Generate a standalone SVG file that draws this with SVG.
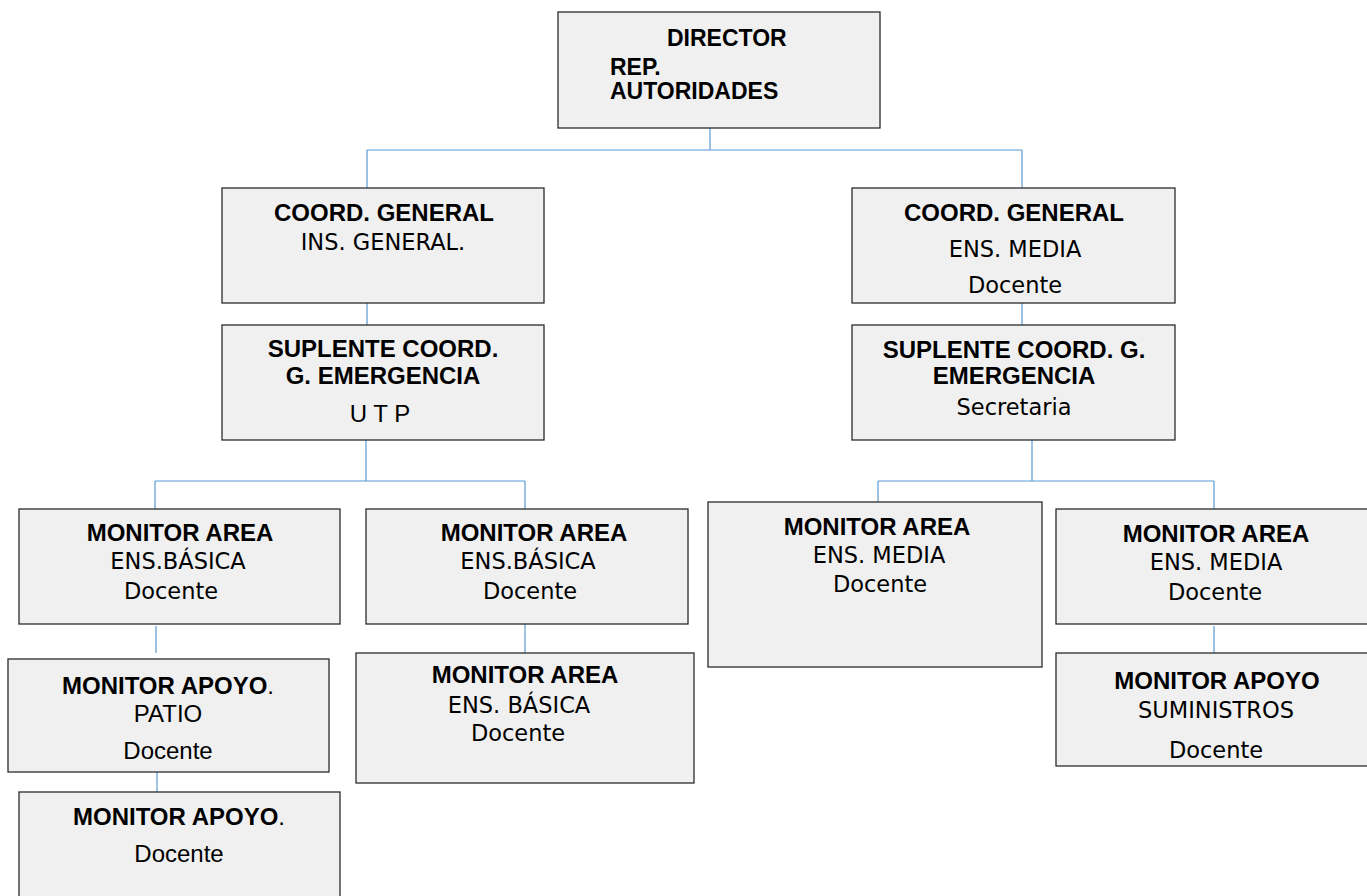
<svg xmlns="http://www.w3.org/2000/svg" width="1367" height="896" viewBox="0 0 1367 896">
<style>
.box{fill:#f0f0f0;stroke:#2b2b2b;stroke-width:1.3}
.b{font-family:"Liberation Sans",Arial,sans-serif;font-weight:bold;font-size:24px;fill:#000;text-anchor:middle}
.d{font-size:23px;text-anchor:start}
.r{font-family:"DejaVu Sans",Verdana,sans-serif;font-size:22.5px;fill:#000;text-anchor:middle}
.a{font-family:"Liberation Sans",Arial,sans-serif;font-size:24px;fill:#000;text-anchor:middle}
.n{font-weight:normal}
.c{fill:none;stroke:#5b9bd5;stroke-width:1.2}
</style>
<rect width="1367" height="896" fill="#fff"/>
<g id="connectors" class="c">
<path d="M710 128V150M367 150H1022M367 150V188M1022 150V188"/>
<path d="M367 303V325M1022 303V325"/>
<path d="M366 440V481M155 481H525M155 481V509M525 481V509"/>
<path d="M1032 440V481M878 481H1214M878 481V502M1214 481V509"/>
<path d="M156 626V653M157 772V792M525 624V653M1214 626V653"/>
</g>
<g id="director">
<rect class="box" x="558" y="12" width="322" height="116"/>
<text class="b d" x="667" y="46">DIRECTOR</text>
<text class="b d" x="610" y="75">REP.</text>
<text class="b d" x="610" y="99">AUTORIDADES</text>
</g>
<g id="coord-general-ins">
<rect class="box" x="222" y="188" width="322" height="115"/>
<text class="b" x="384" y="221">COORD. GENERAL</text>
<text class="r" x="383" y="250">INS. GENERAL.</text>
</g>
<g id="coord-general-media">
<rect class="box" x="852" y="188" width="323" height="115"/>
<text class="b" x="1014" y="221">COORD. GENERAL</text>
<text class="r" x="1015" y="257">ENS. MEDIA</text>
<text class="r" x="1015" y="293">Docente</text>
</g>
<g id="suplente-utp">
<rect class="box" x="222" y="325" width="322" height="115"/>
<text class="b" x="383" y="357">SUPLENTE COORD.</text>
<text class="b" x="383" y="384">G. EMERGENCIA</text>
<text class="a" x="380" y="422">U T P</text>
</g>
<g id="suplente-secretaria">
<rect class="box" x="852" y="325" width="323" height="115"/>
<text class="b" x="1014" y="358">SUPLENTE COORD. G.</text>
<text class="b" x="1014" y="384">EMERGENCIA</text>
<text class="r" x="1014" y="415">Secretaria</text>
</g>
<g id="monitor-basica-1">
<rect class="box" x="19" y="509" width="321" height="115"/>
<text class="b" x="180" y="541">MONITOR AREA</text>
<text class="r" x="178" y="569">ENS.BÁSICA</text>
<text class="r" x="171" y="599">Docente</text>
</g>
<g id="monitor-basica-2">
<rect class="box" x="366" y="509" width="322" height="115"/>
<text class="b" x="534" y="541">MONITOR AREA</text>
<text class="r" x="528" y="569">ENS.BÁSICA</text>
<text class="r" x="530" y="599">Docente</text>
</g>
<g id="monitor-media-1">
<rect class="box" x="708" y="502" width="334" height="165"/>
<text class="b" x="877" y="535">MONITOR AREA</text>
<text class="r" x="879" y="563">ENS. MEDIA</text>
<text class="r" x="880" y="592">Docente</text>
</g>
<g id="monitor-media-2">
<rect class="box" x="1056" y="509" width="314" height="115"/>
<text class="b" x="1216" y="542">MONITOR AREA</text>
<text class="r" x="1216" y="570">ENS. MEDIA</text>
<text class="r" x="1215" y="600">Docente</text>
</g>
<g id="monitor-apoyo-patio">
<rect class="box" x="8" y="659" width="321" height="113"/>
<text class="b" x="168" y="694">MONITOR APOYO<tspan class="n">.</tspan></text>
<text class="a" x="168" y="722">PATIO</text>
<text class="a" x="168" y="759">Docente</text>
</g>
<g id="monitor-basica-3">
<rect class="box" x="356" y="653" width="338" height="130"/>
<text class="b" x="525" y="683">MONITOR AREA</text>
<text class="r" x="519" y="713">ENS. BÁSICA</text>
<text class="r" x="518" y="741">Docente</text>
</g>
<g id="monitor-apoyo-suministros">
<rect class="box" x="1056" y="653" width="314" height="113"/>
<text class="b" x="1217" y="689">MONITOR APOYO</text>
<text class="r" x="1216" y="718">SUMINISTROS</text>
<text class="r" x="1216" y="758">Docente</text>
</g>
<g id="monitor-apoyo">
<rect class="box" x="19" y="792" width="321" height="110"/>
<text class="b" x="179" y="825">MONITOR APOYO<tspan class="n">.</tspan></text>
<text class="a" x="179" y="862">Docente</text>
</g>
</svg>
